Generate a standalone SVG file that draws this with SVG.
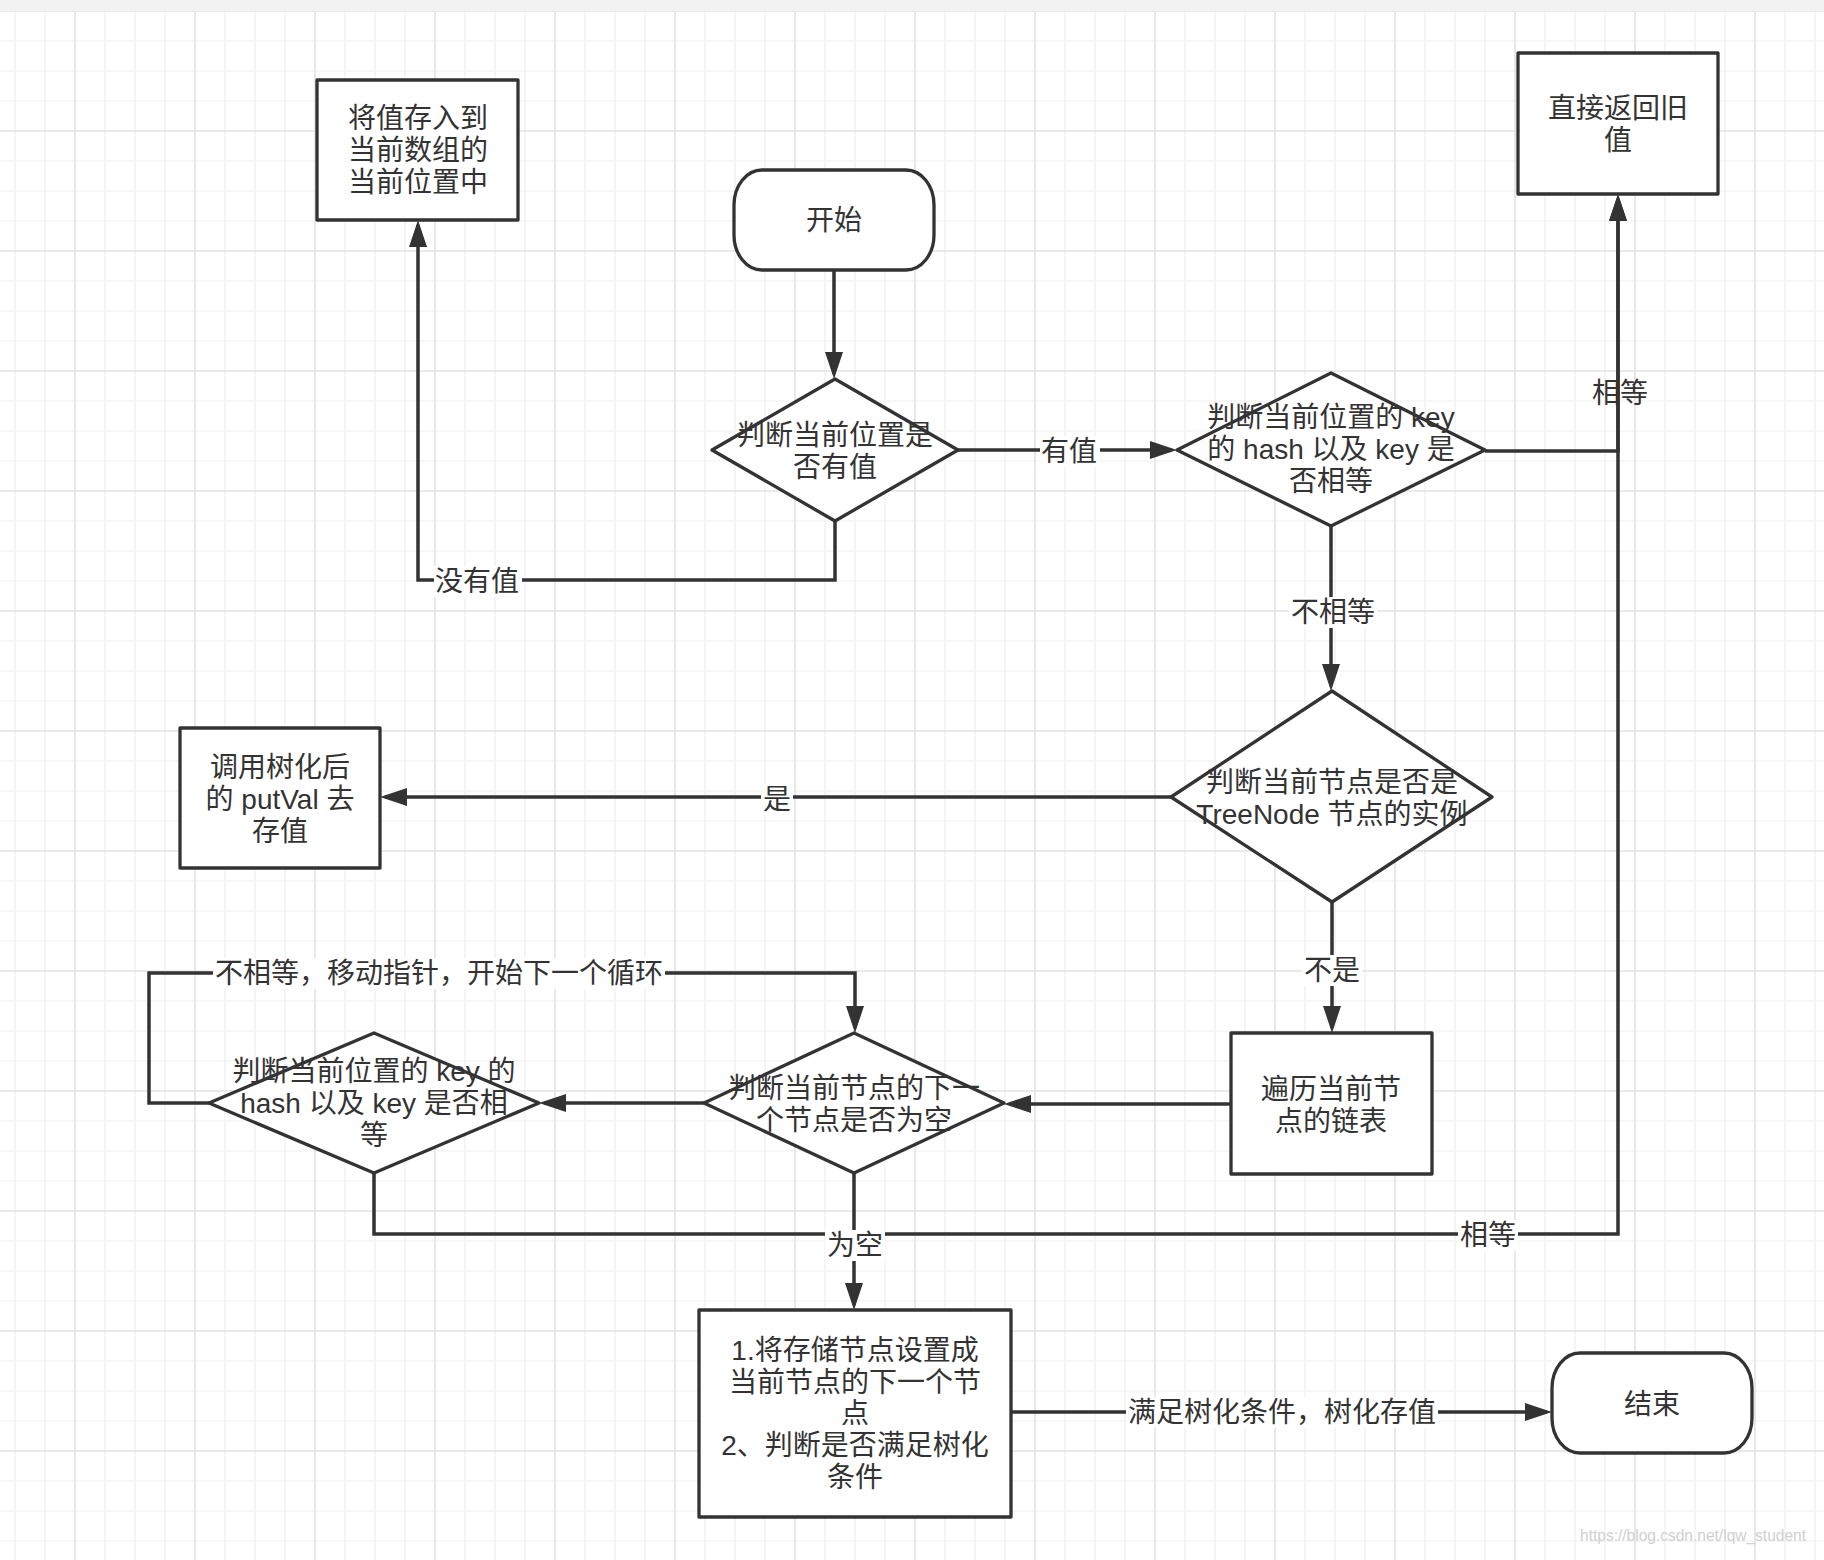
<svg xmlns="http://www.w3.org/2000/svg" width="1824" height="1560" viewBox="0 0 1824 1560">
<defs>
<pattern id="grid" x="0" y="-4" width="120" height="120" patternUnits="userSpaceOnUse">
<path d="M15 0V120M45 0V120M105 0V120M0 45H120M0 75H120M0 105H120" stroke="#efefef" stroke-width="1.2" fill="none"/>
<path d="M75 0V120M0 15H120" stroke="#e3e3e3" stroke-width="1.6" fill="none"/>
</pattern>
<marker id="arr" viewBox="0 0 27 18" refX="22" refY="9" markerWidth="27" markerHeight="18" markerUnits="userSpaceOnUse" orient="auto">
<path d="M0,0 L27,9 L0,18 Z" fill="#333"/>
</marker>
<style>
.shape{fill:#fff;stroke:#333;stroke-width:3.3;stroke-linejoin:round}
.edge{fill:none;stroke:#333;stroke-width:3.5;marker-end:url(#arr)}
.t{font-family:"Liberation Sans","Noto Sans CJK SC",sans-serif;font-size:28px;fill:#333;text-anchor:middle}
.bg{fill:#fff}
</style>
</defs>
<rect x="0" y="0" width="1824" height="1560" fill="#fff"/>
<rect x="0" y="0" width="1824" height="11" fill="#f2f2f2"/>
<rect x="0" y="11" width="1824" height="1549" fill="url(#grid)"/>

<g id="connectors">
<path class="edge" d="M834,270 V374"/>
<path class="edge" d="M958,450 H1172"/>
<path class="edge" d="M835,521 V580 H418 V225"/>
<path class="edge" d="M1485,451 H1618 V199"/>
<path class="edge" d="M374,1173 V1234 H1618 V199"/>
<path class="edge" d="M1331,526 V686"/>
<path class="edge" d="M1171,797 H385"/>
<path class="edge" d="M1332,902 V1028"/>
<path class="edge" d="M1231,1104 H1009"/>
<path class="edge" d="M704,1103 H544"/>
<path class="edge" d="M209,1103 H149 V973 H855 V1028"/>
<path class="edge" d="M854,1173 V1305"/>
<path class="edge" d="M1011,1412 H1547"/>
<g id="labels">
<rect class="bg" x="1040" y="436" width="60" height="31"/><text class="t" x="1069" y="461">有值</text>
<rect class="bg" x="434" y="566" width="88" height="31"/><text class="t" x="477" y="591">没有值</text>
<text class="t" x="1620" y="403">相等</text>
<rect class="bg" x="1458" y="1220" width="60" height="31"/><text class="t" x="1488" y="1245">相等</text>
<rect class="bg" x="1289" y="597" width="88" height="31"/><text class="t" x="1333" y="622">不相等</text>
<rect class="bg" x="761" y="784" width="32" height="31"/><text class="t" x="777" y="809">是</text>
<rect class="bg" x="1302" y="955" width="60" height="31"/><text class="t" x="1332" y="980">不是</text>
<rect class="bg" x="213" y="958" width="452" height="31"/><text class="t" x="439" y="983">不相等，移动指针，开始下一个循环</text>
<rect class="bg" x="825" y="1230" width="60" height="31"/><text class="t" x="855" y="1255">为空</text>
<rect class="bg" x="1126" y="1397" width="312" height="31"/><text class="t" x="1282" y="1422">满足树化条件，树化存值</text>
</g>
</g>

<g id="n_store">
<rect class="shape" x="317" y="80" width="201" height="140"/>
<text class="t"><tspan x="418" y="128">将值存入到</tspan><tspan x="418" y="160">当前数组的</tspan><tspan x="418" y="192">当前位置中</tspan></text>
</g>
<g id="n_start">
<rect class="shape" x="734" y="170" width="200" height="100" rx="28" ry="35"/>
<text class="t" x="834" y="230">开始</text>
</g>
<g id="n_d1">
<polygon class="shape" points="835,379 958,450 835,521 712,450"/>
<text class="t"><tspan x="835" y="445">判断当前位置是</tspan><tspan x="835" y="477">否有值</tspan></text>
</g>
<g id="n_d2">
<polygon class="shape" points="1331,373 1485,450 1331,526 1177,450"/>
<text class="t"><tspan x="1331" y="427">判断当前位置的 key</tspan><tspan x="1331" y="459">的 hash 以及 key 是</tspan><tspan x="1331" y="491">否相等</tspan></text>
</g>
<g id="n_return">
<rect class="shape" x="1518" y="53" width="200" height="141"/>
<text class="t"><tspan x="1618" y="118">直接返回旧</tspan><tspan x="1618" y="150">值</tspan></text>
</g>
<g id="n_d3">
<polygon class="shape" points="1332,691 1492,797 1332,902 1171,797"/>
<text class="t"><tspan x="1332" y="792">判断当前节点是否是</tspan><tspan x="1332" y="824">TreeNode 节点的实例</tspan></text>
</g>
<g id="n_tree">
<rect class="shape" x="180" y="728" width="200" height="140"/>
<text class="t"><tspan x="280" y="777">调用树化后</tspan><tspan x="280" y="809">的 putVal 去</tspan><tspan x="280" y="841">存值</tspan></text>
</g>
<g id="n_traverse">
<rect class="shape" x="1231" y="1033" width="201" height="141"/>
<text class="t"><tspan x="1331" y="1099">遍历当前节</tspan><tspan x="1331" y="1131">点的链表</tspan></text>
</g>
<g id="n_d5">
<polygon class="shape" points="854,1033 1004,1103 854,1173 704,1103"/>
<text class="t"><tspan x="854" y="1098">判断当前节点的下一</tspan><tspan x="854" y="1130">个节点是否为空</tspan></text>
</g>
<g id="n_d4">
<polygon class="shape" points="374,1033 539,1103 374,1173 209,1103"/>
<text class="t"><tspan x="374" y="1081">判断当前位置的 key 的</tspan><tspan x="374" y="1113">hash 以及 key 是否相</tspan><tspan x="374" y="1145">等</tspan></text>
</g>
<g id="n_set">
<rect class="shape" x="699" y="1310" width="312" height="207"/>
<text class="t"><tspan x="855" y="1360">1.将存储节点设置成</tspan><tspan x="855" y="1392">当前节点的下一个节</tspan><tspan x="855" y="1423">点</tspan><tspan x="855" y="1455">2、判断是否满足树化</tspan><tspan x="855" y="1487">条件</tspan></text>
</g>
<g id="n_end">
<rect class="shape" x="1552" y="1353" width="200" height="100" rx="28" ry="35"/>
<text class="t" x="1652" y="1414">结束</text>
</g>
<text x="1580" y="1541" font-family="Liberation Sans, sans-serif" font-size="17" fill="#d0d0d0" textLength="226" lengthAdjust="spacingAndGlyphs">https://blog.csdn.net/lqw_student</text>
</svg>
